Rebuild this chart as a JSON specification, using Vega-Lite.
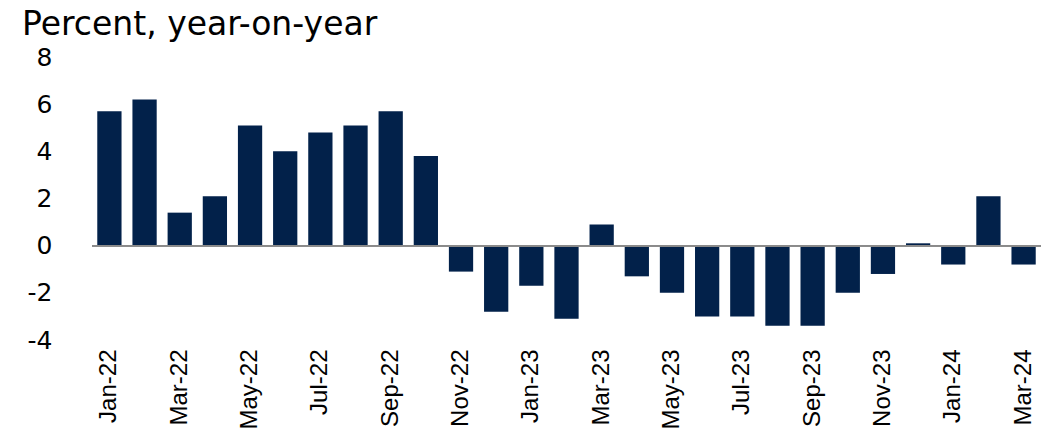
{
  "$schema": "https://vega.github.io/schema/vega-lite/v6.json",
  "autosize": {"type": "none"},
  "padding": {"left": 92, "top": 57, "right": 8, "bottom": 92},
  "width": 949,
  "height": 283,
  "background": "white",
  "title": {
    "text": "Percent, year-on-year",
    "anchor": "start",
    "frame": "group",
    "font": "DejaVu Sans",
    "fontSize": 33,
    "fontWeight": "normal",
    "color": "black",
    "dx": -70,
    "offset": 3
  },
  "data": {
    "values": [
      {"month": "Jan-22", "value": 5.7},
      {"month": "Feb-22", "value": 6.2},
      {"month": "Mar-22", "value": 1.4},
      {"month": "Apr-22", "value": 2.1},
      {"month": "May-22", "value": 5.1},
      {"month": "Jun-22", "value": 4.0},
      {"month": "Jul-22", "value": 4.8},
      {"month": "Aug-22", "value": 5.1},
      {"month": "Sep-22", "value": 5.7},
      {"month": "Oct-22", "value": 3.8},
      {"month": "Nov-22", "value": -1.1},
      {"month": "Dec-22", "value": -2.8},
      {"month": "Jan-23", "value": -1.7},
      {"month": "Feb-23", "value": -3.1},
      {"month": "Mar-23", "value": 0.9},
      {"month": "Apr-23", "value": -1.3},
      {"month": "May-23", "value": -2.0},
      {"month": "Jun-23", "value": -3.0},
      {"month": "Jul-23", "value": -3.0},
      {"month": "Aug-23", "value": -3.4},
      {"month": "Sep-23", "value": -3.4},
      {"month": "Oct-23", "value": -2.0},
      {"month": "Nov-23", "value": -1.2},
      {"month": "Dec-23", "value": 0.1},
      {"month": "Jan-24", "value": -0.8},
      {"month": "Feb-24", "value": 2.1},
      {"month": "Mar-24", "value": -0.8}
    ]
  },
  "config": {"view": {"stroke": null}},
  "layer": [
    {
      "mark": {"type": "bar", "color": "#02214a"},
      "encoding": {
        "x": {
          "field": "month",
          "type": "ordinal",
          "sort": null,
          "scale": {"paddingInner": 0.31, "paddingOuter": 0.15},
          "axis": {
            "title": null,
            "values": ["Jan-22","Mar-22","May-22","Jul-22","Sep-22","Nov-22","Jan-23","Mar-23","May-23","Jul-23","Sep-23","Nov-23","Jan-24","Mar-24"],
            "labelAngle": -90,
            "labelFont": "Liberation Sans",
            "labelFontSize": 24,
            "labelColor": "black",
            "labelPadding": 9,
            "ticks": false,
            "domain": false,
            "grid": false
          }
        },
        "y": {
          "field": "value",
          "type": "quantitative",
          "scale": {"domain": [-4, 8], "nice": false},
          "axis": {
            "title": null,
            "values": [-4, -2, 0, 2, 4, 6, 8],
            "labelExpr": "datum.value < 0 ? '-' + abs(datum.value) : '' + datum.value",
            "labelFont": "DejaVu Sans",
            "labelFontSize": 25,
            "labelColor": "black",
            "labelPadding": 40,
            "ticks": false,
            "domain": false,
            "grid": false
          }
        }
      }
    },
    {
      "mark": {"type": "rule", "color": "#8a8a8a", "strokeWidth": 1.2},
      "encoding": {"y": {"datum": 0}}
    }
  ]
}
